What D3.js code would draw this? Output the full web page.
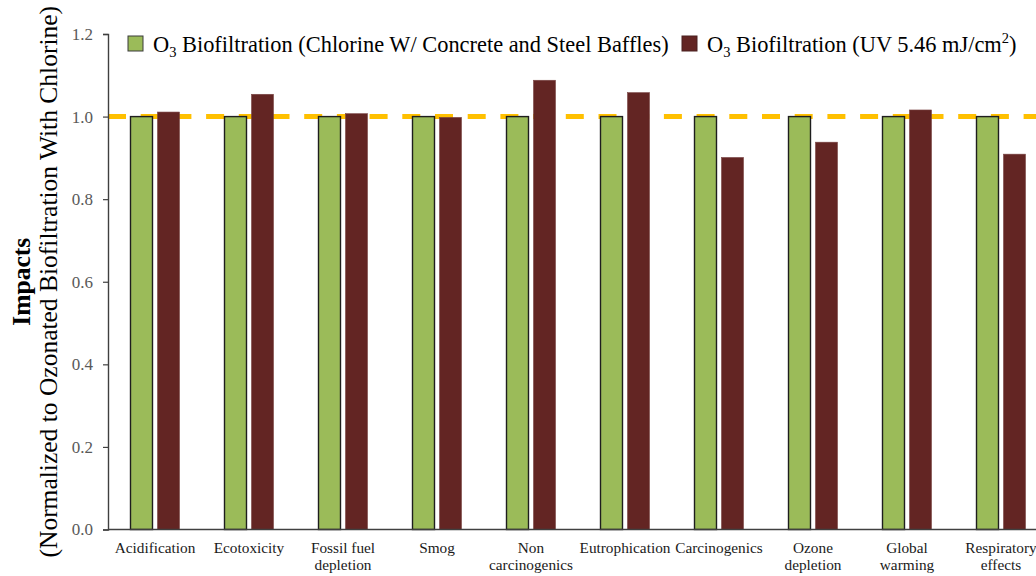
<!DOCTYPE html>
<html>
<head>
<meta charset="utf-8">
<script src="https://cdn.jsdelivr.net/npm/d3@7"></script>
<style>
  html, body { margin: 0; padding: 0; background: #fff; overflow: hidden; }
  svg { display: block; font-family: "Liberation Serif", "Times New Roman", serif; }
</style>
</head>
<body>
<svg id="chart" width="1036" height="576"></svg>
<script>
// Impact categories along the x axis (multi-line labels split on "\n")
const categories = [
  "Acidification", "Ecotoxicity", "Fossil fuel\ndepletion", "Smog",
  "Non\ncarcinogenics", "Eutrophication", "Carcinogenics",
  "Ozone\ndepletion", "Global\nwarming", "Respiratory\neffects"
];

// Normalized impacts, chlorine (concrete and steel baffles) = 1.0 reference
const chlorineValues = [1, 1, 1, 1, 1, 1, 1, 1, 1, 1];
// Normalized impacts, UV 5.46 mJ/cm2
const uvValues = [1.011, 1.054, 1.007, 0.998, 1.088, 1.058, 0.901, 0.938, 1.016, 0.909];

const seriesKeys = ["chlorine", "uv"];
const seriesColors = { chlorine: "#9BBB59", uv: "#632523" };
const yTicks = [0, 0.2, 0.4, 0.6, 0.8, 1.0, 1.2];
const referenceLevel = 1.0;

const FONT = "Liberation Serif, Times New Roman, serif";
const svg = d3.select("#chart");
const margin = { left: 108, top: 34, bottom: 529.5 };
const plotRight = 1048;

const x0 = d3.scaleBand().domain(categories).range([margin.left, plotRight]).padding(0);
const groupWidth = 49;
const x1 = d3.scaleBand().domain(seriesKeys).range([0, groupWidth]).paddingInner(0.185).paddingOuter(0);
const y = d3.scaleLinear().domain([0, 1.2]).range([margin.bottom, margin.top]);

const rows = categories.map((c, i) => ({ category: c, chlorine: chlorineValues[i], uv: uvValues[i] }));

// Dashed reference line at 1.0 (drawn beneath the bars)
svg.append("line")
  .attr("x1", margin.left).attr("x2", 1036)
  .attr("y1", y(referenceLevel)).attr("y2", y(referenceLevel))
  .attr("stroke", "#FFC000").attr("stroke-width", 5)
  .attr("stroke-dasharray", "18,14.7");

// Bars
const groups = svg.append("g").selectAll("g")
  .data(rows).join("g")
  .attr("transform", d => `translate(${x0(d.category) + (x0.bandwidth() - groupWidth) / 2},0)`);

groups.selectAll("rect")
  .data(d => seriesKeys.map(k => ({ key: k, value: d[k] })))
  .join("rect")
  .attr("x", d => x1(d.key))
  .attr("y", d => y(d.value))
  .attr("width", x1.bandwidth())
  .attr("height", d => y(0) - y(d.value))
  .attr("fill", d => seriesColors[d.key])
  .attr("stroke", d => d.key === "chlorine" ? "#1e1e1e" : "#7a4544")
  .attr("stroke-width", d => d.key === "chlorine" ? 1.4 : 0.6);

// Y axis
const yAxis = d3.axisLeft(y).tickValues(yTicks).tickFormat(d3.format(".1f")).tickSize(5).tickPadding(10);
const yg = svg.append("g").attr("transform", `translate(${margin.left},0)`).call(yAxis)
  .attr("font-family", FONT);
yg.select(".domain").attr("stroke", "#404040").attr("stroke-width", 1.4);
yg.selectAll(".tick line").attr("stroke", "#404040").attr("stroke-width", 1.2);
yg.selectAll(".tick text")
  .attr("fill", "#595959").attr("font-size", 17);

// X axis baseline
svg.append("line")
  .attr("x1", margin.left).attr("x2", 1036)
  .attr("y1", y(0)).attr("y2", y(0))
  .attr("stroke", "#404040").attr("stroke-width", 1.4);

// Category labels
const catLabels = svg.append("g").attr("font-family", FONT).selectAll("text")
  .data(categories).join("text")
  .attr("x", d => x0(d) + x0.bandwidth() / 2)
  .attr("y", 553)
  .attr("text-anchor", "middle")
  .attr("font-size", 15.3)
  .attr("fill", "#1a1a1a");
catLabels.each(function(d) {
  const lines = d.split("\n");
  d3.select(this).selectAll("tspan").data(lines).join("tspan")
    .attr("x", x0(d) + x0.bandwidth() / 2)
    .attr("dy", (l, i) => i === 0 ? 0 : 17)
    .text(l => l);
});

// Y axis title (two lines, rotated)
const yTitleY = (margin.top + margin.bottom) / 2;
svg.append("text")
  .attr("transform", `translate(30,${yTitleY}) rotate(-90)`)
  .attr("text-anchor", "middle").attr("font-family", FONT)
  .attr("font-size", 25.5).attr("font-weight", "bold").attr("fill", "#000")
  .text("Impacts");
svg.append("text")
  .attr("transform", `translate(57,${yTitleY}) rotate(-90)`)
  .attr("text-anchor", "middle").attr("font-family", FONT)
  .attr("font-size", 25.5).attr("fill", "#000")
  .text("(Normalized to Ozonated Biofiltration With Chlorine)");

// Legend
const legend = svg.append("g").attr("font-size", 22.4).attr("font-family", FONT).attr("fill", "#000");
function legendItem(xPos, color, stroke, parts) {
  legend.append("rect")
    .attr("x", xPos).attr("y", 36).attr("width", 15).attr("height", 15)
    .attr("fill", color).attr("stroke", stroke).attr("stroke-width", 1);
  const t = legend.append("text").attr("x", xPos + 25).attr("y", 51.5);
  parts.forEach(p => {
    const ts = t.append("tspan").text(p.text);
    if (p.sub) ts.attr("font-size", 14.5).attr("dy", 5);
    if (p.sup) ts.attr("font-size", 14.5).attr("dy", -9);
    if (p.after) ts.attr("dy", p.after);
  });
}
legendItem(128, seriesColors.chlorine, "#3a3a3a", [
  { text: "O" }, { text: "3", sub: true },
  { text: " Biofiltration (Chlorine W/ Concrete and Steel Baffles)", after: -5 }
]);
legendItem(682, seriesColors.uv, "#4a2020", [
  { text: "O" }, { text: "3", sub: true },
  { text: " Biofiltration (UV 5.46 mJ/cm", after: -5 },
  { text: "2", sup: true },
  { text: ")", after: 9 }
]);
</script>
</body>
</html>
